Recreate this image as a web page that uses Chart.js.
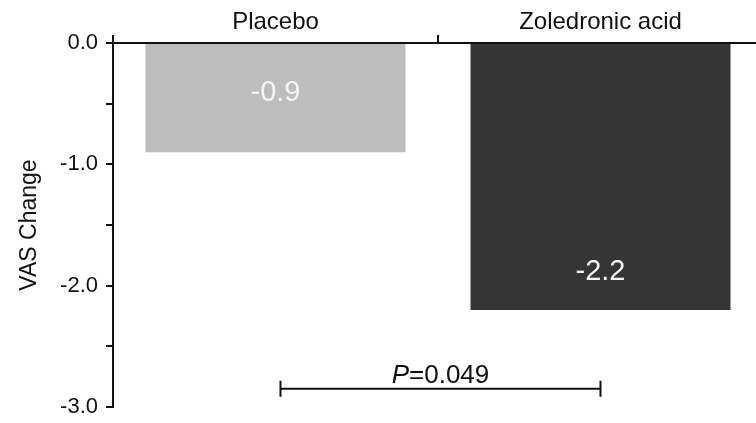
<!DOCTYPE html>
<html>
<head>
<meta charset="utf-8">
<script src="https://cdn.jsdelivr.net/npm/chart.js@4"></script>
<style>
  html, body { margin: 0; padding: 0; background: #fff; overflow: hidden; }
  #wrap { width: 770px; height: 423px; }
</style>
</head>
<body>
<div id="wrap"><canvas id="vasChart" width="770" height="423"></canvas></div>
<script>
const groups = ["Placebo", "Zoledronic acid"];
const vasChange = [-0.9, -2.2];
const yTicks = [0, -1, -2, -3];
const pText = "0.049";

const FONT = "'Liberation Sans', Arial, sans-serif";

// value labels inside the bars, first near the top, second near the bottom
const barLabels = {
  id: "barLabels",
  afterDatasetsDraw(chart) {
    const ctx = chart.ctx;
    const bars = chart.getDatasetMeta(0).data;
    ctx.save();
    ctx.fillStyle = "#f4f4f4";
    ctx.font = "29px " + FONT;
    ctx.textAlign = "center";
    ctx.textBaseline = "middle";
    bars.forEach((bar, i) => {
      const y = i === 0 ? bar.base + 49 : bar.y - 38;
      ctx.fillText(vasChange[i].toFixed(1), bar.x, y);
    });
    ctx.restore();
  }
};

// significance bracket under the bars
const pBracket = {
  id: "pBracket",
  afterDraw(chart) {
    const ctx = chart.ctx;
    const x = chart.scales.x;
    const y = chart.scales.y;
    const x1 = x.getPixelForValue(0) + 5;
    const x2 = x.getPixelForValue(1);
    const yy = y.getPixelForValue(-2.85);
    ctx.save();
    ctx.strokeStyle = "#111";
    ctx.lineWidth = 2;
    ctx.beginPath();
    ctx.moveTo(x1, yy); ctx.lineTo(x2, yy);
    ctx.moveTo(x1, yy - 8); ctx.lineTo(x1, yy + 8);
    ctx.moveTo(x2, yy - 8); ctx.lineTo(x2, yy + 8);
    ctx.stroke();

    ctx.fillStyle = "#111";
    ctx.textBaseline = "alphabetic";
    ctx.font = "italic 26px " + FONT;
    const pw = ctx.measureText("P").width;
    ctx.font = "26px " + FONT;
    const rest = "=" + pText;
    const rw = ctx.measureText(rest).width;
    const start = (x1 + x2) / 2 - (pw + rw) / 2;
    ctx.font = "italic 26px " + FONT;
    ctx.fillText("P", start, yy - 6);
    ctx.font = "26px " + FONT;
    ctx.fillText(rest, start + pw, yy - 6);
    ctx.restore();
  }
};

new Chart("vasChart", {
  type: "bar",
  data: {
    labels: groups,
    datasets: [{
      data: vasChange,
      backgroundColor: ["#bdbdbd", "#353535"],
      borderWidth: 0,
      barPercentage: 0.8,
      categoryPercentage: 1.0
    }]
  },
  options: {
    responsive: false,
    animation: false,
    layout: { padding: { left: 0, right: 7, top: 0, bottom: 16 } },
    plugins: { legend: { display: false }, tooltip: { enabled: false } },
    scales: {
      x: {
        position: "top",
        afterFit: (s) => { s.height = 43; },
        border: { display: true, color: "#111", width: 2 },
        grid: { drawOnChartArea: false, drawTicks: true, tickLength: 8, color: "#111", lineWidth: 2, offset: true },
        ticks: { color: "#111", font: { family: FONT, size: 24 }, padding: -2, maxRotation: 0 }
      },
      y: {
        min: -3,
        max: 0,
        afterFit: (s) => { s.width = 113; s.paddingTop = 0; s.paddingBottom = 0; },
        border: { display: true, color: "#111", width: 2 },
        grid: { drawOnChartArea: false, drawTicks: true, tickLength: 7, color: "#111", lineWidth: 2 },
        ticks: {
          stepSize: 0.5,
          color: "#111",
          padding: 8,
          font: { family: FONT, size: 22 },
          callback: (v) => yTicks.includes(v) ? v.toFixed(1) : ""
        },
        title: {
          display: true,
          text: "VAS Change",
          color: "#111",
          font: { family: FONT, size: 23 },
          padding: { top: 16, bottom: 0 }
        }
      }
    }
  },
  plugins: [barLabels, pBracket]
});
</script>
</body>
</html>
